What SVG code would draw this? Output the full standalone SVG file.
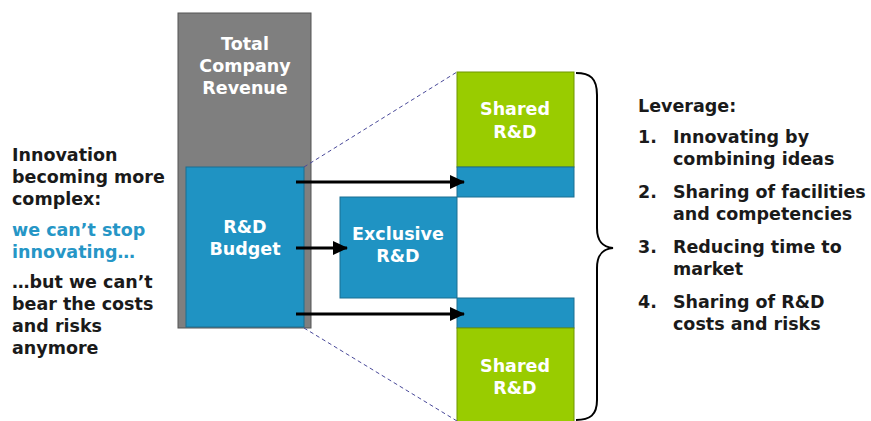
<svg xmlns="http://www.w3.org/2000/svg" width="871" height="421" viewBox="0 0 871 421">
<defs>
<marker id="ah" markerWidth="15" markerHeight="14" refX="14" refY="7" orient="auto" markerUnits="userSpaceOnUse"><path d="M0,0 L15,7 L0,14 Z" fill="#000"/></marker>
<style>
.t{font-family:"DejaVu Sans",Verdana,sans-serif;font-weight:bold;font-size:17.5px}
.w{fill:#fff;text-anchor:middle}
.d{fill:#1a1a1a}
.b{fill:#2696c6}
.blue{fill:#1f93c3;stroke:#1a6e91;stroke-width:1}
.green{fill:#99cc00;stroke:#6f9500;stroke-width:1}
</style>
</defs>
<rect width="871" height="421" fill="#fff"/>
<g id="revenue">
<rect x="178" y="13" width="133" height="315" fill="#7f7f7f" stroke="#555" stroke-width="1"/>
<text class="t w" x="245" y="50">Total</text>
<text class="t w" x="245" y="72">Company</text>
<text class="t w" x="245" y="94">Revenue</text>
</g>
<g id="budget">
<rect x="186" y="167" width="118" height="160" class="blue"/>
<text class="t w" x="245" y="233">R&amp;D</text>
<text class="t w" x="245" y="255">Budget</text>
</g>
<g id="exclusive">
<rect x="340" y="197" width="117" height="101" class="blue"/>
<text class="t w" x="398" y="240">Exclusive</text>
<text class="t w" x="398" y="262">R&amp;D</text>
</g>
<g id="shared-top">
<rect x="457" y="72" width="117" height="95" class="green"/>
<rect x="457" y="167" width="117" height="30" class="blue"/>
<text class="t w" x="515" y="115">Shared</text>
<text class="t w" x="515" y="138">R&amp;D</text>
</g>
<g id="shared-bottom">
<rect x="457" y="298" width="117" height="30" class="blue"/>
<rect x="457" y="328" width="117" height="95" class="green"/>
<text class="t w" x="515" y="372">Shared</text>
<text class="t w" x="515" y="394">R&amp;D</text>
</g>
<g id="connectors" fill="none">
<line x1="304" y1="167" x2="457" y2="72" stroke="#4a4a9a" stroke-width="1" stroke-dasharray="4,3"/>
<line x1="304" y1="328" x2="457" y2="421" stroke="#4a4a9a" stroke-width="1" stroke-dasharray="4,3"/>
<line x1="296" y1="182" x2="464" y2="182" stroke="#000" stroke-width="3" marker-end="url(#ah)"/>
<line x1="296" y1="248" x2="347" y2="248" stroke="#000" stroke-width="3" marker-end="url(#ah)"/>
<line x1="296" y1="314" x2="464" y2="314" stroke="#000" stroke-width="3" marker-end="url(#ah)"/>
<path d="M576,73 C590,73 597,78 597,95 L597,228 C597,242 603,247 613,248 C603,249 597,254 597,268 L597,400 C597,415 590,420 576,420" stroke="#000" stroke-width="2"/>
</g>
<g id="left-text" class="t">
<text class="d" x="12" y="161">Innovation</text>
<text class="d" x="12" y="183">becoming more</text>
<text class="d" x="12" y="205">complex:</text>
<text class="b" x="12" y="236">we can’t stop</text>
<text class="b" x="12" y="258">innovating…</text>
<text class="d" x="12" y="288">…but we can’t</text>
<text class="d" x="12" y="310">bear the costs</text>
<text class="d" x="12" y="332">and risks</text>
<text class="d" x="12" y="354">anymore</text>
</g>
<g id="right-text" class="t">
<text class="d" x="638" y="112">Leverage:</text>
<text class="d" x="638" y="143">1.</text>
<text class="d" x="673" y="143">Innovating by</text>
<text class="d" x="673" y="165">combining ideas</text>
<text class="d" x="638" y="198">2.</text>
<text class="d" x="673" y="198">Sharing of facilities</text>
<text class="d" x="673" y="220">and competencies</text>
<text class="d" x="638" y="253">3.</text>
<text class="d" x="673" y="253">Reducing time to</text>
<text class="d" x="673" y="275">market</text>
<text class="d" x="638" y="308">4.</text>
<text class="d" x="673" y="308">Sharing of R&amp;D</text>
<text class="d" x="673" y="330">costs and risks</text>
</g>
</svg>
